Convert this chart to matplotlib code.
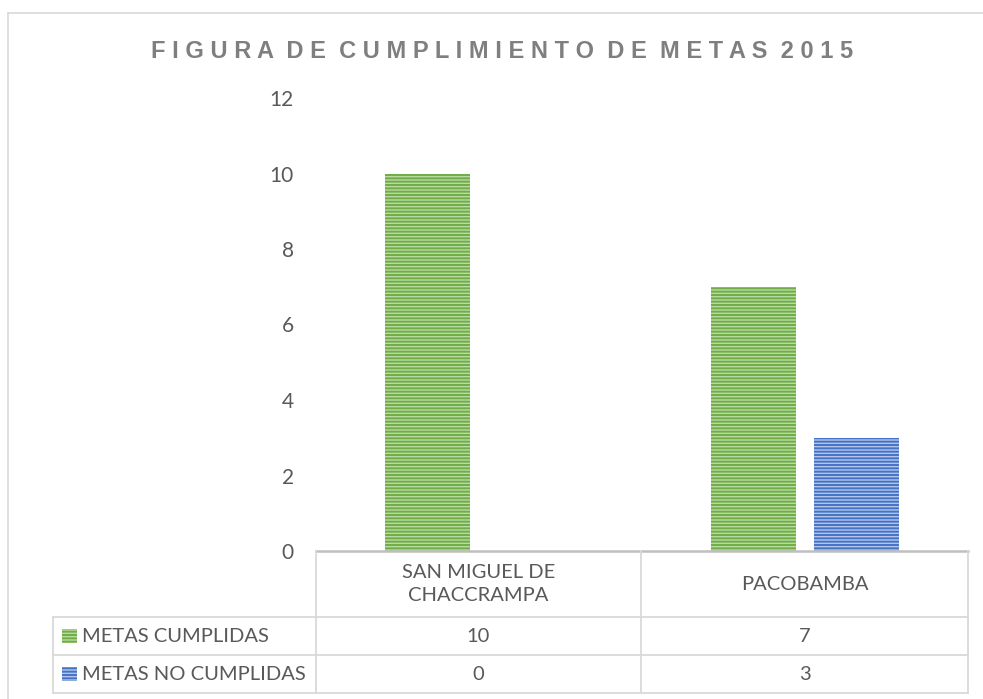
import matplotlib
matplotlib.use("Agg")
import matplotlib.pyplot as plt
from matplotlib.patches import Rectangle
from matplotlib.lines import Line2D

categories = ["SAN MIGUEL DE\nCHACCRAMPA", "PACOBAMBA"]
series_names = ["METAS CUMPLIDAS", "METAS NO CUMPLIDAS"]
cumplidas = [10, 7]
no_cumplidas = [0, 3]
y_ticks = [0, 2, 4, 6, 8, 10, 12]
title = "FIGURA DE CUMPLIMIENTO DE METAS 2015"

W, H = 983, 699
FONT = "Lato"
TXT = "#595959"
GRID = "#d9d9d9"
face = {"green": "#b9dba2", "blue": "#b3c6ea"}
stripe = {"green": "#70ad47", "blue": "#4472c4"}
plt.rcParams["hatch.linewidth"] = 1.4


def fx(x):
    return x / W


def fy(y):
    return 1 - y / H


fig = plt.figure(figsize=(W / 100, H / 100), dpi=100)


def hline(x0, x1, y, color=GRID, lw=1.3):
    fig.add_artist(Line2D([fx(x0), fx(x1)], [fy(y), fy(y)], transform=fig.transFigure,
                          color=color, linewidth=lw))


def vline(x, y0, y1, color=GRID, lw=1.3):
    fig.add_artist(Line2D([fx(x), fx(x)], [fy(y0), fy(y1)], transform=fig.transFigure,
                          color=color, linewidth=lw))


# outer frame: only top and left edges fall inside the picture
hline(8, W, 13, lw=1.2)
vline(8, 13, H, lw=1.2)

ax_left, ax_right, ax_top, ax_bottom = 316, 968, 98, 551
ax = fig.add_axes([fx(ax_left), fy(ax_bottom), fx(ax_right) - fx(ax_left),
                   fy(ax_top) - fy(ax_bottom)])
ax.set_xlim(-0.5, 1.5)
ax.set_ylim(0, 12)

xs = range(len(categories))
w, off = 0.26, 0.158
ax.bar([x - off for x in xs], cumplidas, width=w, color=face["green"],
       edgecolor=stripe["green"], hatch="-----", linewidth=0)
ax.bar([x + off for x in xs], no_cumplidas, width=w, color=face["blue"],
       edgecolor=stripe["blue"], hatch="-----", linewidth=0)

for s in ax.spines.values():
    s.set_visible(False)
ax.set_xticks([])
ax.set_yticks(y_ticks)
ax.set_yticklabels([str(t) for t in y_ticks], fontsize=15, color=TXT, family=FONT)
ax.tick_params(axis="y", length=0, pad=16)

fig.text(fx(502), fy(52), "  ".join(" ".join(word) for word in title.split()),
         ha="center", va="center", fontsize=17, fontweight="bold",
         color="#7f7f7f", family="Liberation Sans")

# data table
col_x = [53, 316, 641, 968]
row_y = [551, 617, 655, 693]

hline(col_x[1], col_x[3], row_y[0], color="#bfbfbf", lw=1.8)
for y in row_y[1:]:
    hline(col_x[0], col_x[3], y)
for x in col_x[1:]:
    vline(x, row_y[0], row_y[3])
vline(col_x[0], row_y[1], row_y[3])

for i, cat in enumerate(categories):
    cx = (col_x[i + 1] + col_x[i + 2]) / 2
    fig.text(fx(cx), fy((row_y[0] + row_y[1]) / 2), cat, ha="center", va="center",
             fontsize=14.5, color=TXT, family=FONT, linespacing=1.45)
    for r, vals in enumerate([cumplidas, no_cumplidas]):
        fig.text(fx(cx), fy((row_y[r + 1] + row_y[r + 2]) / 2), str(vals[i]),
                 ha="center", va="center", fontsize=14.5, color=TXT, family=FONT)

for r, (name, key) in enumerate(zip(series_names, ["green", "blue"])):
    cy = (row_y[r + 1] + row_y[r + 2]) / 2
    fig.patches.append(Rectangle((fx(62), fy(cy + 7)), fx(77) - fx(62), fy(cy - 7) - fy(cy + 7),
                                 transform=fig.transFigure, facecolor=face[key],
                                 edgecolor=stripe[key], hatch="-----", linewidth=0))
    fig.text(fx(82), fy(cy), name, ha="left", va="center", fontsize=14.5,
             color=TXT, family=FONT)

fig.savefig("out.png", dpi=100)
